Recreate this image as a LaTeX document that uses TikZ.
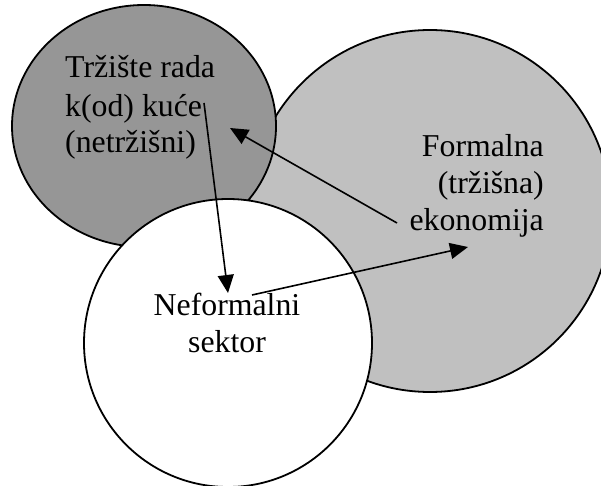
\documentclass[tikz,border=0pt]{standalone}
\usepackage{fontspec}
\setmainfont{Liberation Serif}
\usetikzlibrary{arrows.meta}
\definecolor{darkgr}{RGB}{150,150,150}
\definecolor{lightgr}{RGB}{192,192,192}
\begin{document}
\begin{tikzpicture}[x=1bp,y=-1bp,
  ring/.style={draw=black,line width=1.8bp},
  lbl/.style={inner sep=0pt,font=\fontsize{31.8bp}{37.5bp}\selectfont},
  conn/.style={line width=1.6bp,-{Triangle[length=18bp,width=16bp]}}]
\useasboundingbox (0,0) rectangle (601,486);
\clip (0,0) rectangle (601,486);
\fill[white] (0,0) rectangle (601,486);
% circles
\path[ring,fill=lightgr] (430,211) circle[radius=181];
\path[ring,fill=darkgr] (144,126) ellipse[x radius=132,y radius=121];
\path[ring,fill=white] (228,343) circle[radius=144];
% labels
\node[lbl,anchor=base west] (d1) at (65,78) {Tržište rada};
\node[lbl,anchor=base west] (d2) at (65,117) {k(od) kuće};
\node[lbl,anchor=base west] (d3) at (65,153) {(netržišni)};
\node[lbl,anchor=base east] (f1) at (544,157) {Formalna};
\node[lbl,anchor=base east] (f2) at (544,194) {(tržišna)};
\node[lbl,anchor=base east] (f3) at (544,231) {ekonomija};
\node[lbl,anchor=base] (n1) at (227,315) {Neformalni};
\node[lbl,anchor=base] (n2) at (227,352) {sektor};
% connector ends
\coordinate (a1s) at (204,103);
\coordinate (a1e) at (228,293);
\coordinate (a2s) at (397,223);
\coordinate (a2e) at (230,128);
\coordinate (a3s) at (252,295);
\coordinate (a3e) at (468,247);
\draw[conn] (a1s) -- (a1e);
\draw[conn] (a2s) -- (a2e);
\draw[conn] (a3s) -- (a3e);
\end{tikzpicture}
\end{document}
